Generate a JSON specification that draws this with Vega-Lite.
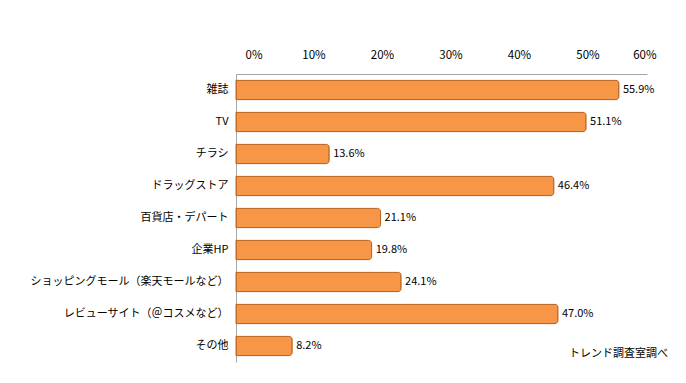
{
  "$schema": "https://vega.github.io/schema/vega-lite/v6.json",
  "autosize": {"type": "none"},
  "width": 411,
  "height": 288,
  "padding": {"left": 236, "top": 74, "right": 39, "bottom": 21},
  "background": "white",
  "data": {"values": [
    {"media": "雑誌", "pct": 0.559},
    {"media": "TV", "pct": 0.511},
    {"media": "チラシ", "pct": 0.136},
    {"media": "ドラッグストア", "pct": 0.464},
    {"media": "百貨店・デパート", "pct": 0.211},
    {"media": "企業HP", "pct": 0.198},
    {"media": "ショッピングモール（楽天モールなど）", "pct": 0.241},
    {"media": "レビューサイト（＠コスメなど）", "pct": 0.470},
    {"media": "その他", "pct": 0.082}
  ]},
  "title": {"text": "トレンド調査室調べ", "orient": "bottom", "anchor": "end", "offset": -14, "dx": 12, "fontSize": 11, "fontWeight": "normal", "color": "#000", "font": "Noto Sans CJK JP"},
  "encoding": {
    "y": {"field": "media", "type": "nominal", "sort": null,
      "scale": {"paddingInner": 0.4, "paddingOuter": 0.2},
      "axis": {"title": null, "ticks": false, "domainColor": "#a6a6a6", "labelPadding": 8, "labelFontSize": 11, "labelFontWeight": "normal", "labelLimit": 300, "labelColor": "#000", "labelFont": "Noto Sans CJK JP"}},
    "x": {"field": "pct", "type": "quantitative",
      "scale": {"domain": [0, 0.6]},
      "axis": {"orient": "top", "title": null, "values": [0,0.1,0.2,0.3,0.4,0.5,0.6], "format": ".0%", "labelOffset": 9, "grid": false, "ticks": false, "domainColor": "#a6a6a6", "labelPadding": 14, "labelFontSize": 11.5, "labelFontWeight": "normal", "labelColor": "#000", "labelFont": "Noto Sans CJK JP"}}
  },
  "layer": [
    {"mark": {"type": "bar", "color": "#F79646", "stroke": "#B8621E", "strokeWidth": 1, "cornerRadiusEnd": 3}},
    {"mark": {"type": "text", "align": "left", "dx": 4, "fontSize": 11, "fontWeight": "normal", "color": "#000", "font": "Noto Sans CJK JP"},
      "encoding": {"text": {"field": "pct", "type": "quantitative", "format": ".1%"}}}
  ],
  "config": {"view": {"stroke": null}}
}
